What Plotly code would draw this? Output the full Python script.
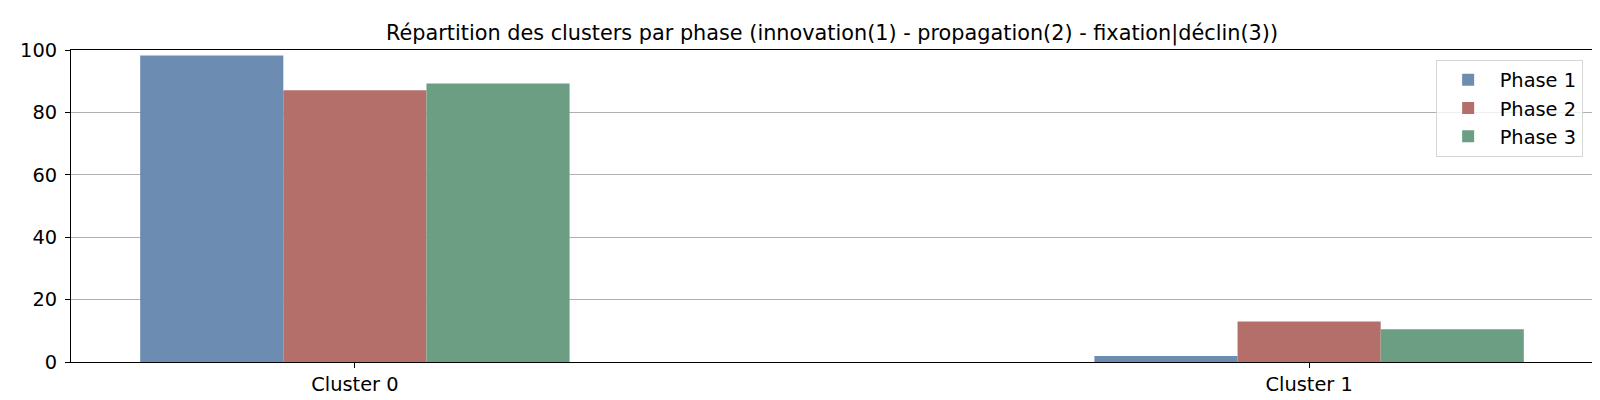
'''Bar chart: cluster distribution per phase'''
import plotly.graph_objects as go

# Data
clusters = ["Cluster 0", "Cluster 1"]
phases = ["Phase 1", "Phase 2", "Phase 3"]
phase_1 = [98.2, 1.9]
phase_2 = [87.1, 13.0]
phase_3 = [89.3, 10.5]
y_ticks = [0, 20, 40, 60, 80, 100]

colors = ["#6c8cb1", "#b46f6b", "#6c9e84"]
font = "DejaVu Sans"

fig = go.Figure()
for name, values, color in zip(phases, [phase_1, phase_2, phase_3], colors):
    fig.add_trace(go.Bar(
        x=clusters,
        y=values,
        name=name,
        marker=dict(color=color, line=dict(width=0)),
    ))

fig.update_layout(
    width=1600,
    height=400,
    barmode="group",
    bargap=0.55,
    bargroupgap=0,
    plot_bgcolor="white",
    paper_bgcolor="white",
    margin=dict(l=62, r=15, t=42, b=44),
    font=dict(family=font, size=19.4, color="black"),
    title=dict(
        text="Répartition des clusters par phase (innovation(1) - propagation(2) - fixation|déclin(3))",
        x=0.5, xref="paper", xanchor="center",
        y=1 - 24.5 / 400, yanchor="middle",
        font=dict(family=font, size=20.8, color="black"),
    ),
    legend=dict(
        x=0.9932, y=0.969, xanchor="right", yanchor="top",
        bgcolor="rgba(255,255,255,0.8)",
        bordercolor="#d6d6d6", borderwidth=1,
        itemwidth=53,
        font=dict(family=font, size=19.4),
    ),
)

fig.update_xaxes(
    range=[-0.2975, 1.2975],
    showline=True, linecolor="black", linewidth=1, mirror=True,
    ticks="outside", ticklen=5, tickcolor="black",
    showgrid=False, zeroline=False,
)
fig.update_yaxes(
    range=[0, 100],
    tickvals=y_ticks,
    showline=True, linecolor="black", linewidth=1, mirror=True,
    ticks="outside", ticklen=5, tickcolor="black",
    ticklabelstandoff=4,
    showgrid=True, gridcolor="#b0b0b0", gridwidth=0.8,
    zeroline=False,
)

fig.write_html("out.html")
